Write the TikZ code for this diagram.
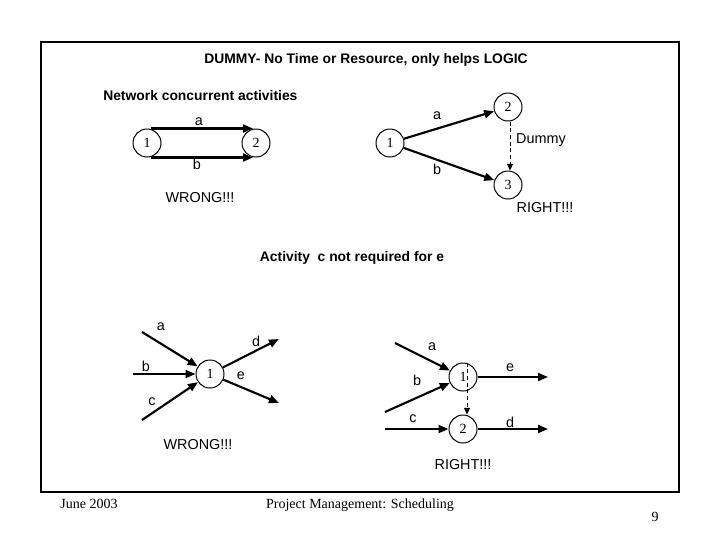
\documentclass[tikz,border=0pt]{standalone}
\usepackage{fontspec}
\setmainfont{Liberation Sans}
\newfontfamily\tmsf{Liberation Serif}
\usetikzlibrary{arrows.meta,calc}
\begin{document}
\begin{tikzpicture}[x=0.75pt,y=-0.75pt,
  circ/.style={circle,draw,line width=0.75pt,minimum size=21pt,inner sep=0pt,font=\tmsf\fontsize{10.5}{12}\selectfont},
  lbl/.style={inner sep=0pt,font=\fontsize{10.8}{12}\selectfont},
  ttl/.style={inner sep=0pt,font=\bfseries\fontsize{10.4}{12}\selectfont},
  foot/.style={inner sep=0pt,anchor=base,font=\tmsf\fontsize{10.5}{12}\selectfont},
  act/.style={line width=1.6pt,-{Triangle[length=7.5pt,width=6pt]}},
  dum/.style={line width=0.75pt,dashed,dash pattern=on 3pt off 2pt,-{Triangle[length=5pt,width=4.5pt]}}]
\useasboundingbox (0,0) rectangle (720,540);
\draw[line width=0.8pt] (41,42) rectangle (679,492);
\node[ttl] (title) at (366,60) {DUMMY- No Time or Resource, only helps LOGIC};
\node[ttl,anchor=west] (sub) at (103,96) {Network concurrent activities};
% top left (wrong)
\node[circ] (l1) at (147,143) {1};
\node[circ] (l2) at (256,143) {2};
\draw[act] ($(l1.north)+(4,0)$) -- ($(l2.north)+(-3,0)$);
\draw[act] ($(l1.south)+(4,0)$) -- ($(l2.south)+(-3,0)$);
\node[lbl] (la) at (199,122) {a};
\node[lbl] (lb) at (197,164) {b};
\node[lbl] (lw) at (200,198) {WRONG!!!};
% top right (right)
\node[circ] (r1) at (390,143) {1};
\node[circ] (r2) at (508,107) {2};
\node[circ] (r3) at (508,185) {3};
\draw[act] (r1) -- (r2);
\draw[act] (r1) -- (r3);
\draw[dum] ($(r2.south)+(2,0)$) -- ($(r3.north)+(2,0)$);
\node[lbl] (ra) at (437,116) {a};
\node[lbl] (rb) at (437,169) {b};
\node[lbl] (rd) at (541,140) {Dummy};
\node[lbl] (rw) at (545,208) {RIGHT!!!};
\node[ttl] (sub2) at (352,258) {Activity\ \ c not required for e};
% bottom left (wrong)
\node[circ] (w1) at (210,374) {1};
\coordinate (wa) at (142,332);
\coordinate (wb) at (133,374);
\coordinate (wc) at (142,420);
\coordinate (wd) at (279,339);
\coordinate (we) at (279,403);
\draw[act] (wa) -- (w1);
\draw[act] (wb) -- (w1);
\draw[act] (wc) -- (w1);
\draw[act] (w1) -- (wd);
\draw[act] (w1) -- (we);
\node[lbl] (wla) at (161,327) {a};
\node[lbl] (wlb) at (146,366) {b};
\node[lbl] (wlc) at (152,402) {c};
\node[lbl] (wld) at (256,341) {d};
\node[lbl] (wle) at (241,376) {e};
\node[lbl] (ww) at (198,445) {WRONG!!!};
% bottom right (right)
\node[circ] (g1) at (463,377) {1};
\node[circ] (g2) at (463,429) {2};
\coordinate (ga) at (395,343);
\coordinate (gb) at (385,412);
\coordinate (gc) at (385,429);
\coordinate (ge) at (548,377);
\coordinate (gd) at (548,429);
\draw[act] (ga) -- (g1);
\draw[act] (gb) -- (g1);
\draw[act] (gc) -- (g2);
\draw[act] (g1) -- (ge);
\draw[act] (g2) -- (gd);
\draw[dum] ($(g1.north)+(4,0)$) -- ($(g2.north)+(4,0)$);
\node[lbl] (gla) at (432,347) {a};
\node[lbl] (glb) at (417,380) {b};
\node[lbl] (glc) at (413,419) {c};
\node[lbl] (gle) at (510,368) {e};
\node[lbl] (gld) at (510,422) {d};
\node[lbl] (gw) at (463,465) {RIGHT!!!};
% footer
\node[foot] (f1) at (89,508) {June 2003};
\node[foot] (f2) at (360,508) {Project Management: Scheduling};
\node[foot] (f3) at (655,521) {9};
\end{tikzpicture}
\end{document}
